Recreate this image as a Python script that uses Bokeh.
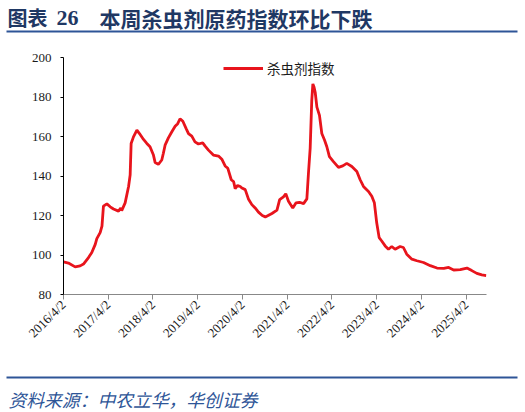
from datetime import datetime
import pandas as pd
from bokeh.plotting import figure
from bokeh.layouts import column
from bokeh.models import Range1d, FixedTicker, Label, BoxAnnotation, Legend, LegendItem
from bokeh.embed import file_html
from bokeh.resources import INLINE

# ---------------- data ----------------
dates = [
    "2016-04-02", "2016-05-12", "2016-07-06", "2016-08-16", "2016-09-12", "2016-10-23",
    "2016-11-19", "2016-12-17", "2016-12-30", "2017-01-26", "2017-02-10", "2017-02-22",
    "2017-03-22", "2017-04-18", "2017-05-15", "2017-06-25", "2017-07-13", "2017-07-21",
    "2017-08-18", "2017-09-15", "2017-09-28", "2017-10-06", "2017-10-25", "2017-11-22",
    "2017-12-13", "2018-01-15", "2018-02-11", "2018-03-09", "2018-04-06", "2018-04-20",
    "2018-05-16", "2018-06-13", "2018-06-26", "2018-07-10", "2018-08-06", "2018-09-02",
    "2018-09-30", "2018-10-21", "2018-11-09", "2018-12-02", "2018-12-29", "2019-01-17",
    "2019-02-13", "2019-03-11", "2019-04-08", "2019-05-13", "2019-06-02", "2019-06-29",
    "2019-08-08", "2019-09-19", "2019-10-16", "2019-11-12", "2019-12-04", "2020-01-01",
    "2020-01-20", "2020-02-02", "2020-02-22", "2020-03-14", "2020-03-28", "2020-04-24",
    "2020-05-20", "2020-06-17", "2020-07-14", "2020-08-10", "2020-09-10", "2020-10-05",
    "2020-11-28", "2021-01-08", "2021-01-30", "2021-03-02", "2021-03-21", "2021-04-12",
    "2021-05-17", "2021-06-13", "2021-07-11", "2021-08-13", "2021-09-09", "2021-09-22",
    "2021-10-06", "2021-10-19", "2021-10-28", "2021-11-07", "2021-11-16", "2021-11-30",
    "2021-12-21", "2022-01-09", "2022-01-31", "2022-02-19", "2022-03-12", "2022-04-14",
    "2022-05-25", "2022-06-29", "2022-08-01", "2022-09-11", "2022-10-22", "2022-11-18",
    "2022-12-15", "2023-01-25", "2023-02-21", "2023-03-14", "2023-04-02", "2023-04-22",
    "2023-05-13", "2023-06-10", "2023-07-07", "2023-08-03", "2023-08-30", "2023-10-10",
    "2023-11-06", "2023-12-03", "2024-01-14", "2024-02-24", "2024-04-18", "2024-06-12",
    "2024-08-06", "2024-09-30", "2024-11-09", "2024-12-20", "2025-02-12", "2025-04-07",
    "2025-05-17", "2025-06-27", "2025-08-07", "2025-09-12",
]
insecticide_index = [
    96.5, 95.9, 94.0, 94.5, 95.4, 98.7,
    101.3, 105.4, 108.3, 111.3, 114.6, 124.7,
    125.9, 124.4, 123.3, 122.2, 123.8, 122.5,
    126.4, 134.7, 140.6, 156.5, 159.8, 163.2,
    161.5, 158.5, 156.5, 154.8, 150.6, 146.8,
    145.9, 148.1, 151.5, 155.6, 159.3, 162.3,
    165.2, 166.5, 169.0, 167.7, 164.0, 161.5,
    160.2, 157.3, 156.2, 156.8, 155.1, 153.1,
    150.6, 150.1, 148.5, 145.1, 143.9, 138.1,
    137.2, 133.6, 135.2, 134.7, 133.9, 133.1,
    128.4, 125.5, 123.8, 121.7, 120.0, 119.3,
    121.0, 122.7, 128.0, 129.4, 131.0, 127.2,
    123.8, 126.4, 126.7, 126.0, 128.4, 141.4,
    154.0, 178.2, 186.6, 184.9, 182.4, 174.9,
    170.7, 161.5, 158.2, 154.8, 149.8, 147.3,
    144.4, 145.1, 146.4, 144.8, 142.3, 138.1,
    134.7, 132.2, 129.7, 126.4, 116.3, 108.8,
    107.1, 104.6, 102.9, 104.3, 102.9, 104.3,
    103.8, 100.4, 97.9, 97.1, 96.2, 94.6,
    93.4, 93.2, 93.7, 92.4, 92.6, 93.4,
    92.1, 90.7, 89.9, 89.5,
]
x_tick_labels = ["2016/4/2", "2017/4/2", "2018/4/2", "2019/4/2", "2020/4/2",
                 "2021/4/2", "2022/4/2", "2023/4/2", "2024/4/2", "2025/4/2"]
y_ticks = [80, 100, 120, 140, 160, 180, 200]
series_name = "杀虫剂指数"
title_prefix = "图表"
title_number = "26"
title_text = "本周杀虫剂原药指数环比下跌"
source_text = "资料来源：中农立华，华创证券"

# ---------------- styles ----------------
W = 525
NAVY = "#1F3864"
RULE = "#2E5597"
RED = "#E8141C"
CJK = "Noto Sans CJK SC"
SERIF = "Liberation Serif"
FL, FR = 63, 486          # main frame edges in page pixels

x = pd.to_datetime(dates)
tick_ms = [int(pd.Timestamp(datetime.strptime(t, "%Y/%m/%d")).value // 10**6) for t in x_tick_labels]


def blank(height):
    f = figure(width=W, height=height, x_range=Range1d(0, W), y_range=Range1d(height, 0),
               x_axis_location=None, y_axis_location=None, frame_align=False,
               output_backend="svg", toolbar_location=None,
               min_border_left=0, min_border_right=0, min_border_top=0, min_border_bottom=0)
    f.grid.visible = False
    f.outline_line_color = None
    return f


def rule(y):
    return BoxAnnotation(left=6, right=517, top=y - 1, bottom=y + 1,
                         fill_color=RULE, fill_alpha=1, line_color=None)


# ---------------- header ----------------
top = blank(38)
top.add_layout(Label(x=7, y=17, text=title_prefix, text_font=CJK, text_font_style="bold",
                     text_font_size="20px", text_color=NAVY, text_baseline="middle"))
top.add_layout(Label(x=56, y=17, text=title_number, text_font=SERIF, text_font_style="bold",
                     text_font_size="22px", text_color=NAVY, text_baseline="middle"))
top.add_layout(Label(x=99, y=17, text=title_text, text_font=CJK, text_font_style="bold",
                     text_font_size="21px", text_color=NAVY, text_baseline="middle"))
top.add_layout(rule(31))

# ---------------- main chart ----------------
p = figure(width=W, height=327, x_axis_type="datetime",
           x_range=Range1d(datetime(2016, 4, 2), datetime(2025, 9, 14)),
           y_range=Range1d(80, 200), frame_align=False,
           output_backend="svg", toolbar_location=None,
           min_border_left=FL, min_border_right=W - FR, min_border_top=19, min_border_bottom=71)
p.outline_line_color = None
p.grid.visible = False

r = p.line(x, insecticide_index, line_color=RED, line_width=2.8)

p.yaxis.ticker = FixedTicker(ticks=y_ticks)
p.yaxis.axis_line_color = "black"
p.yaxis.major_tick_line_color = "black"
p.yaxis.major_tick_out = 3
p.yaxis.major_tick_in = 0
p.yaxis.minor_tick_line_color = None
p.yaxis.major_label_text_font = SERIF
p.yaxis.major_label_text_font_size = "13px"
p.yaxis.major_label_text_color = "#1a1a1a"
p.yaxis.major_label_standoff = 9

p.xaxis.ticker = FixedTicker(ticks=tick_ms)
p.xaxis.major_label_overrides = {ms: lab for ms, lab in zip(tick_ms, x_tick_labels)}
p.xaxis.axis_line_color = "#888888"
p.xaxis.major_tick_line_color = "#888888"
p.xaxis.major_tick_out = 5
p.xaxis.major_tick_in = 0
p.xaxis.minor_tick_line_color = None
p.xaxis.major_label_orientation = 0.785398
p.xaxis.major_label_text_font = SERIF
p.xaxis.major_label_text_font_size = "13px"
p.xaxis.major_label_text_color = "#1a1a1a"
p.xaxis.major_label_standoff = 3

legend = Legend(items=[LegendItem(label=series_name, renderers=[r])],
                location=(160, 216), orientation="horizontal",
                border_line_color=None, background_fill_alpha=0,
                padding=0, margin=0, spacing=0,
                glyph_width=40, glyph_height=14, label_height=14,
                label_standoff=4, label_text_font=CJK,
                label_text_font_size="13.5px", label_text_color="#1a1a1a")
p.add_layout(legend)

# ---------------- footer ----------------
bot = blank(47)
bot.add_layout(rule(12))
bot.add_layout(Label(x=8, y=33, text=source_text, text_font=CJK, text_font_style="italic",
                     text_font_size="17.8px", text_color=RULE, text_baseline="middle"))

layout = column(top, p, bot, spacing=0)
open("out.html", "w").write(file_html(layout, INLINE))
